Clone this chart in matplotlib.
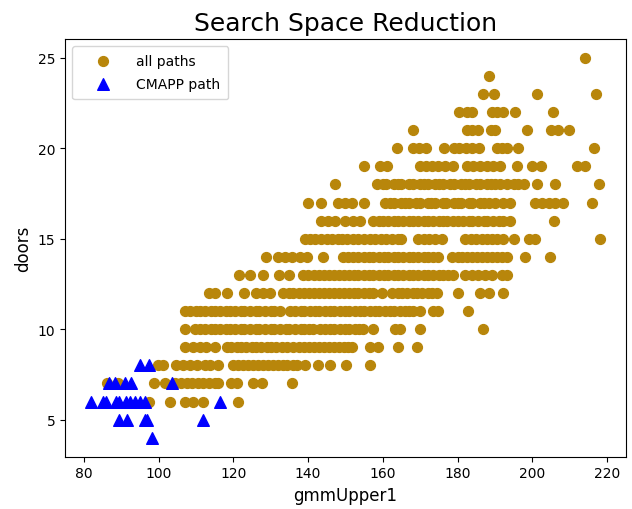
import matplotlib
matplotlib.use("Agg")
import matplotlib.pyplot as plt

# all paths: x values (gmmUpper1) per doors level
all_rows = {
    25: [214.0],
    24: [188.5],
    23: [186.7, 189.7, 201.2, 217.1],
    22: [180.3, 182.6, 183.9, 189.2, 190.6, 192.2, 195.5, 205.6],
    21: [168.1, 182.6, 183.8, 185.5, 189.0, 190.0, 198.5, 205.1, 207.0, 209.8],
    20: [163.8, 168.2, 169.8, 171.6, 176.5, 179.1, 180.5, 182.3, 184.0, 185.8,
         190.5, 191.8, 193.2, 196.3, 216.4],
    19: [155.1, 159.2, 161.2, 170.0, 171.6, 173.1, 174.9, 176.7, 178.9, 182.5,
         184.2, 186.0, 187.8, 189.6, 191.4, 195.8, 199.9, 202.3, 211.9, 214.1],
    18: [147.2, 158.5, 160, 161, 163, 164, 165, 167, 168, 170, 171, 172, 174, 175,
         176, 178, 179, 181, 182, 183, 185, 186, 188, 189, 190, 191.5, 193.2,
         195.0, 196.3, 197.8, 201.2, 206.1, 217.9],
    17: [140.1, 143.6, 148.1, 149.9, 151.7, 155.0, 160.6, 162, 163, 165, 166, 167,
         169, 170, 172, 173, 174, 176, 177, 179, 180, 181, 183, 184, 186, 187,
         188.5, 190, 192.3, 194.1, 200.8, 202.6, 204.4, 206.2, 208.3, 216.1],
    16: [143.6, 145.4, 147.2, 149.9, 152.1, 153.9, 157.5, 159, 160, 161.5, 163,
         164, 165.5, 167, 168, 169.5, 171, 172, 173.5, 175, 176, 177.1, 178.9,
         180, 181.5, 183, 184, 185.5, 187, 188, 189.5, 191, 192.3, 194.1, 205.9],
    15: [139.2, 140.5, 142, 143.5, 145, 146.5, 148, 149, 150.3, 152.1, 153.5, 155,
         156.5, 158, 159.5, 161, 162.5, 164, 165, 169.5, 171, 172.5, 174, 175.8,
         182, 183.5, 185, 186.5, 188, 189.2, 190.5, 192.3, 195.2, 199.0, 200.8,
         218.2],
    14: [128.7, 132.0, 133.8, 135.6, 137.8, 139.6, 144.1, 149.4, 150.8, 152,
         153.5, 155, 156.2, 157.5, 159, 160.2, 161.5, 163, 164.2, 165.5, 167,
         168.2, 169.5, 171, 172.2, 173.5, 174.9, 178.4, 180, 181.2, 182.5, 184,
         185.2, 186.5, 188, 189.2, 190.5, 192, 193.2, 198.1, 204.8],
    13: [121.6, 124.4, 128.0, 132.3, 135.0, 138.7, 140, 141.5, 143, 144.2, 145.5,
         147, 148.2, 149.5, 151, 152.2, 153.5, 155, 156.2, 157.5, 159, 160.2,
         161.5, 163, 164.2, 165.5, 167, 168.2, 169.5, 171, 172.2, 173.5, 175,
         176.2, 177.5, 178.9, 182.0, 183.8, 185.6, 187.4, 189.2, 191.8, 193.2],
    12: [113.6, 115.1, 118.4, 122.8, 126.2, 128.0, 129.8, 133.4, 134.8, 136,
         137.5, 139, 140.2, 141.5, 143, 144.2, 145.5, 147, 148.2, 149.5, 151,
         152.2, 153.5, 155, 156.2, 157.5, 159.7, 162.4, 164, 165.2, 166.5, 168,
         169.2, 170.5, 172, 173.2, 174.4, 180.0, 186.0, 188.3, 192.3],
    11: [107, 108.5, 110, 111, 112.5, 114, 115, 116.5, 118, 119, 120.5, 122, 123,
         124.5, 126, 127, 128.5, 130, 131, 132.5, 135.2, 136.5, 138, 139, 140.5,
         142, 143, 144.5, 146, 147, 148.5, 150, 151, 152.5, 154, 155, 156.5, 158,
         159, 160.5, 162, 163, 164.5, 166, 167, 168.2, 170.0, 173.5, 174.9, 182.9],
    10: [107.0, 109.7, 111, 112.5, 114, 115, 116.5, 118, 119, 120.5, 122, 123,
         124.5, 126, 127, 128.5, 130, 131, 132.5, 134, 135, 136.5, 138, 139,
         140.2, 141.4, 143.2, 144.5, 146, 147, 148.5, 150, 151, 152.5, 153.7,
         154.8, 157.5, 163.3, 164.6, 170.0, 186.8],
    9: [107.0, 109.3, 111.1, 112.8, 115.1, 118.2, 119.5, 121, 122.2, 123.5, 125,
        126.2, 127.5, 129, 130.2, 131.5, 133, 134.3, 136.1, 137.5, 139, 140.2,
        141.5, 143, 144.2, 145.5, 147, 148.2, 149.5, 150.7, 151.7, 156.6, 158.8,
        164.2, 169.1],
    8: [99.9, 101.2, 104.8, 106.6, 108.4, 110.2, 112.4, 113.7, 116.0, 120,
        121.3, 122.5, 124, 125.2, 126.5, 128, 129.2, 130.5, 132, 133.2, 134.5,
        136, 137, 139.2, 142.7, 145.9, 150.1, 156.6],
    7: [86.1, 89.2, 98.8, 101.7, 104.4, 106, 107.5, 109, 110.5, 112, 113.5, 115,
        116.0, 119.5, 120.9, 125.3, 127.6, 135.6],
    6: [97.4, 103.0, 107.0, 109.3, 111.9, 121.3],
}

# CMAPP path points per doors level
cmapp_rows = {
    8: [95.0, 97.4],
    7: [86.8, 88.3, 91.0, 92.6, 103.5],
    6: [81.8, 85.2, 86.0, 88.5, 89.3, 91.3, 92.5, 93.7, 95.0, 96.3, 116.4],
    5: [89.3, 91.5, 96.3, 97.0, 112.0],
    4: [98.3],
}

all_x = [x for y, xs in all_rows.items() for x in xs]
all_y = [y for y, xs in all_rows.items() for x in xs]
cm_x = [x for y, xs in cmapp_rows.items() for x in xs]
cm_y = [y for y, xs in cmapp_rows.items() for x in xs]

fig = plt.figure(figsize=(6.32, 5.10), dpi=100)
ax = fig.add_axes([0.103, 0.1025, 0.887, 0.8195])
ax.scatter(all_x, all_y, color='#B8860B', marker='o', s=50, label='all paths')
ax.scatter(cm_x, cm_y, color='blue', marker='^', s=70, label='CMAPP path')
ax.set_xlim(75, 225)
ax.set_ylim(2.95, 26.05)
ax.set_xticks([80, 100, 120, 140, 160, 180, 200, 220])
ax.set_yticks([5, 10, 15, 20, 25])
ax.set_xlabel('gmmUpper1', fontsize=12)
ax.set_ylabel('doors', fontsize=12)
ax.set_title('Search Space Reduction', fontsize=18)
ax.legend(loc='upper left', handlelength=3.2, borderpad=0.6, labelspacing=0.65)
fig.savefig('out.png', dpi=100)
